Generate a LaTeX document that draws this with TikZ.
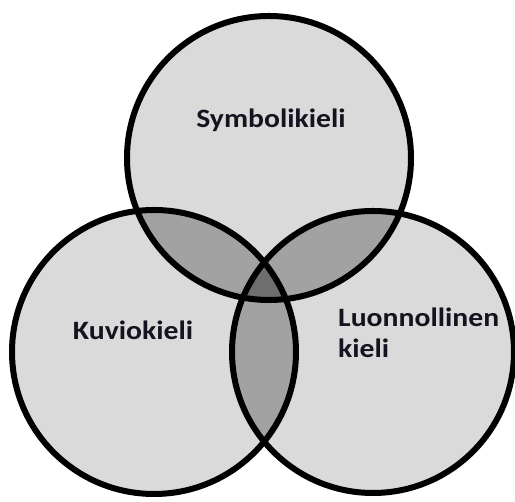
\documentclass[tikz,border=0pt]{standalone}
\usepackage{fontspec}
\setmainfont{Carlito}
\newfontfamily\lblfont[FakeStretch=1.12]{Carlito}
\definecolor{lightg}{HTML}{DADADA}
\definecolor{midg}{HTML}{A2A2A2}
\definecolor{darkg}{HTML}{6E6E6E}
\definecolor{txt}{HTML}{141420}
\tikzset{
  ring/.style={draw=black, line width=6pt},
  lbl/.style={font=\lblfont\fontsize{26.5}{31}\selectfont\bfseries, text=txt, inner sep=0pt}
}
\begin{document}
\begin{tikzpicture}[x=1pt,y=1pt]
\useasboundingbox (0,0) rectangle (515,502);
\fill[white] (0,0) rectangle (515,502);
\def\topc{(269,344) circle (142)}
\def\leftc{(154,150) circle (142)}
\def\rightc{(373,150) circle (141)}
\fill[lightg] \topc;
\fill[lightg] \leftc;
\fill[lightg] \rightc;
\begin{scope}\clip \topc; \fill[midg] \leftc; \fill[midg] \rightc; \end{scope}
\begin{scope}\clip \leftc; \fill[midg] \rightc; \end{scope}
\begin{scope}\clip \topc; \clip \leftc; \fill[darkg] \rightc; \end{scope}
\draw[ring] \topc;
\draw[ring] \leftc;
\draw[ring] \rightc;
\node[lbl, anchor=base] (sym) at (271,374) {Symbolikieli};
\node[lbl, anchor=base] (kuv) at (133,162) {Kuviokieli};
\node[lbl, anchor=base west, align=left] (luo) at (338,144) {Luonnollinen\\kieli};
\end{tikzpicture}
\end{document}
